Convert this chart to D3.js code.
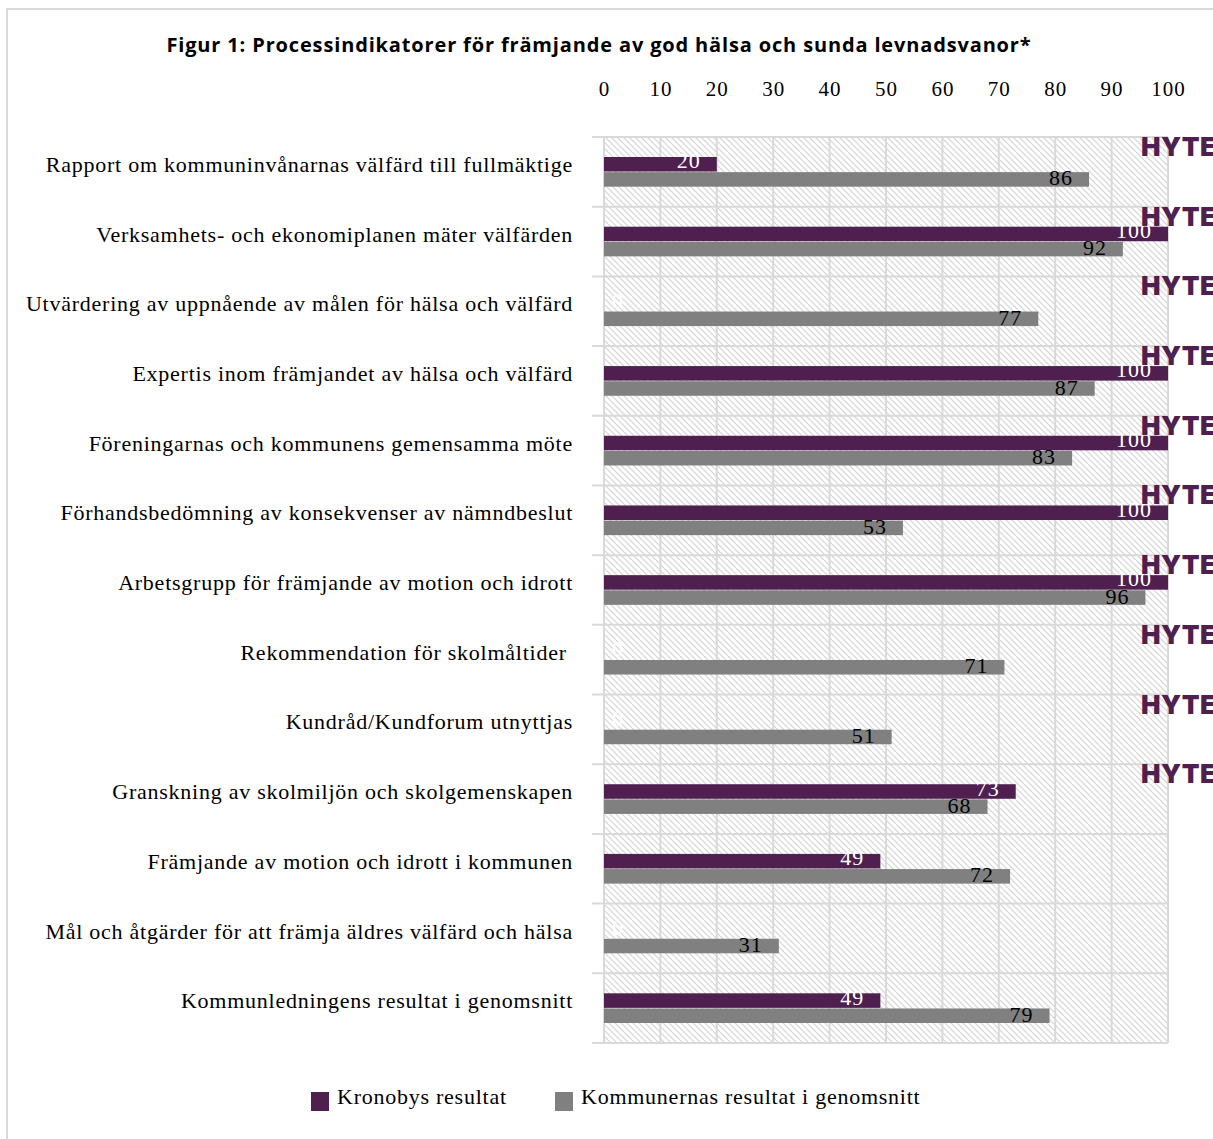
<!DOCTYPE html>
<html>
<head>
<meta charset="utf-8">
<script src="https://cdn.jsdelivr.net/npm/d3@7"></script>
<style>
  body { margin: 0; background: #fff; }
  svg { display: block; }
</style>
</head>
<body>
<svg id="chart" width="1213" height="1139"></svg>
<script>
const categories = [
  "Rapport om kommuninvånarnas välfärd till fullmäktige",
  "Verksamhets- och ekonomiplanen mäter välfärden",
  "Utvärdering av uppnående av målen för hälsa och välfärd",
  "Expertis inom främjandet av hälsa och välfärd",
  "Föreningarnas och kommunens gemensamma möte",
  "Förhandsbedömning av konsekvenser av nämndbeslut",
  "Arbetsgrupp för främjande av motion och idrott",
  "Rekommendation för skolmåltider ",
  "Kundråd/Kundforum utnyttjas",
  "Granskning av skolmiljön och skolgemenskapen",
  "Främjande av motion och idrott i kommunen",
  "Mål och åtgärder för att främja äldres välfärd och hälsa",
  "Kommunledningens resultat i genomsnitt"
];
const kronoby = [20, 100, 0, 100, 100, 100, 100, 0, 0, 73, 49, 0, 49];
const kommuner = [86, 92, 77, 87, 83, 53, 96, 71, 51, 68, 72, 31, 79];
const hyte = [true, true, true, true, true, true, true, true, true, true, false, false, false];
const seriesNames = ["Kronobys resultat", "Kommunernas resultat i genomsnitt"];
const xTicks = [0, 10, 20, 30, 40, 50, 60, 70, 80, 90, 100];

const purple = "#4e1f4f";
const grey = "#808080";
const gridColor = "#d9d9d9";
const serif = "'Liberation Serif', 'DejaVu Serif', serif";

const svg = d3.select("#chart");

// pattern for the plot background
const defs = svg.append("defs");
const pat = defs.append("pattern")
  .attr("id", "hatch")
  .attr("patternUnits", "userSpaceOnUse")
  .attr("width", 6).attr("height", 6);
pat.append("rect").attr("width", 6).attr("height", 6).attr("fill", "#fff");
pat.append("path")
  .attr("d", "M-1,-1 L7,7 M-1,5 L1,7 M5,-1 L7,1")
  .attr("stroke", "#d4d4d4").attr("stroke-width", 1.2);

// outer frame
svg.append("rect")
  .attr("x", 7).attr("y", 9)
  .attr("width", 1230).attr("height", 1160)
  .attr("fill", "none").attr("stroke", gridColor).attr("stroke-width", 2);

const x = d3.scaleLinear().domain([0, 100]).range([604, 1168]);
const y = d3.scaleBand().domain(d3.range(categories.length)).range([137, 1043]);
const ySub = d3.scaleBand().domain([0, 1]).range([20, y.bandwidth() - 20]).paddingInner(0.04);

// title
svg.append("text")
  .attr("x", 599).attr("y", 52)
  .attr("text-anchor", "middle")
  .style("font-family", "'Open Sans', sans-serif")
  .style("font-weight", 700)
  .style("font-size", "20px")
  .style("letter-spacing", "0.85px")
  .text("Figur 1: Processindikatorer för främjande av god hälsa och sunda levnadsvanor*");

// plot background
svg.append("rect")
  .attr("x", x(0)).attr("y", y.range()[0])
  .attr("width", x(100) - x(0)).attr("height", y.range()[1] - y.range()[0])
  .attr("fill", "url(#hatch)");

// top axis
const xAxis = svg.append("g")
  .attr("transform", "translate(0,96)")
  .call(d3.axisTop(x).tickValues(xTicks).tickSize(0).tickPadding(0));
xAxis.select(".domain").remove();
xAxis.selectAll("text")
  .style("font-family", serif)
  .style("font-size", "21px")
  .style("letter-spacing", "1px")
  .attr("fill", "#000");

// vertical grid
svg.append("g")
  .selectAll("line")
  .data(xTicks)
  .join("line")
  .attr("x1", d => x(d)).attr("x2", d => x(d))
  .attr("y1", y.range()[0]).attr("y2", y.range()[1])
  .attr("stroke", gridColor).attr("stroke-width", 2);

// horizontal category lines
const bounds = d3.range(categories.length + 1).map(i => i === categories.length ? y.range()[1] : y(i));
svg.append("g")
  .selectAll("line")
  .data(bounds)
  .join("line")
  .attr("x1", 592).attr("x2", x(100))
  .attr("y1", d => d).attr("y2", d => d)
  .attr("stroke", gridColor).attr("stroke-width", 2);

// category labels
svg.append("g")
  .selectAll("text")
  .data(categories)
  .join("text")
  .attr("x", 573)
  .attr("y", (d, i) => y(i) + y.bandwidth() / 2 - 5)
  .attr("text-anchor", "end")
  .attr("dominant-baseline", "middle")
  .attr("xml:space", "preserve")
  .style("font-family", serif)
  .style("font-size", "22px")
  .style("letter-spacing", "0.75px")
  .style("white-space", "pre")
  .text(d => d);

// bars
const rows = categories.map((c, i) => ({ i, vals: [kronoby[i], kommuner[i]] }));
const colors = [purple, grey];
const labelColors = ["#fff", "#000"];

const row = svg.append("g")
  .selectAll("g")
  .data(rows)
  .join("g")
  .attr("transform", d => `translate(0,${y(d.i)})`);

row.selectAll("rect")
  .data(d => d.vals.map((v, s) => ({ v, s })))
  .join("rect")
  .attr("x", x(0))
  .attr("y", d => ySub(d.s))
  .attr("width", d => x(d.v) - x(0))
  .attr("height", ySub.bandwidth())
  .attr("fill", d => colors[d.s]);

row.selectAll("text.val")
  .data(d => d.vals.map((v, s) => ({ v, s })))
  .join("text")
  .attr("class", "val")
  .attr("x", d => d.v === 0 ? x(0) + 20 : x(d.v) - 16)
  .attr("y", d => ySub(d.s) + ySub.bandwidth() / 2 + (d.s === 0 ? -1 : 1))
  .attr("text-anchor", "end")
  .attr("dominant-baseline", "middle")
  .style("font-family", serif)
  .style("font-size", "22px")
  .style("letter-spacing", "1px")
  .attr("fill", d => labelColors[d.s])
  .text(d => d.v);

// HYTE badges
svg.append("g")
  .selectAll("text")
  .data(categories.map((c, i) => i).filter(i => hyte[i]))
  .join("text")
  .attr("x", 1141)
  .attr("y", i => y(i) + 19)
  .style("font-family", "Inter, 'DejaVu Sans', sans-serif")
  .style("font-weight", 900)
  .style("font-size", "26px")
  .style("letter-spacing", "0.5px")
  .attr("fill", purple)
  .text("HYTE");

// legend
const legend = svg.append("g")
  .selectAll("g")
  .data(seriesNames)
  .join("g")
  .attr("transform", (d, i) => `translate(${[311, 555][i]},1092)`);
legend.append("rect")
  .attr("width", 18).attr("height", 19)
  .attr("fill", (d, i) => colors[i]);
legend.append("text")
  .attr("x", 26).attr("y", 12)
  .style("font-family", serif)
  .style("font-size", "22px")
  .style("letter-spacing", "0.75px")
  .text(d => d);
</script>
</body>
</html>
